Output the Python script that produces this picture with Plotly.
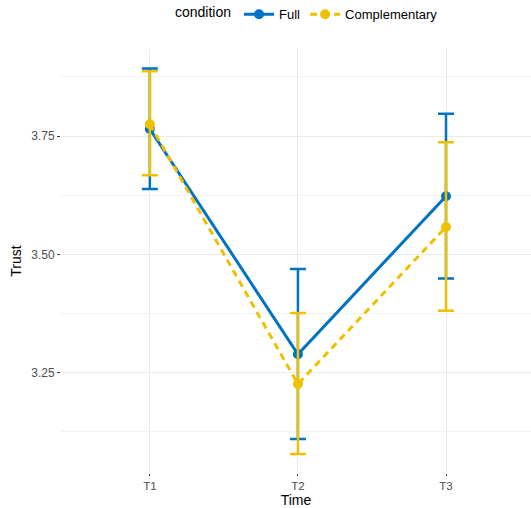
import plotly.graph_objects as go

times = ["T1", "T2", "T3"]
full_mean = [3.765, 3.289, 3.623]
full_upper = [3.893, 3.469, 3.797]
full_lower = [3.638, 3.110, 3.449]
comp_mean = [3.775, 3.226, 3.558]
comp_upper = [3.887, 3.376, 3.737]
comp_lower = [3.667, 3.078, 3.381]

BLUE = "#0073C2"
GOLD = "#EFC000"

fig = go.Figure()

def add(name, mean, up, lo, color, dash):
    fig.add_trace(go.Scatter(
        x=times, y=mean, name=name, mode="lines+markers",
        line=dict(color=color, width=3, dash=dash),
        marker=dict(color=color, size=10),
        error_y=dict(type="data", symmetric=False,
                     array=[u - m for u, m in zip(up, mean)],
                     arrayminus=[m - l for m, l in zip(mean, lo)],
                     color=color, thickness=2.5, width=8),
    ))

add("Full", full_mean, full_upper, full_lower, BLUE, "solid")
add("Complementary", comp_mean, comp_upper, comp_lower, GOLD, "7px,5px")

fig.update_layout(
    width=531, height=508,
    margin=dict(l=61, r=0, t=49, b=35, autoexpand=False),
    paper_bgcolor="white", plot_bgcolor="white",
    font=dict(family="Liberation Sans, Arial, sans-serif", size=12, color="black"),
    showlegend=True,
    legend=dict(orientation="h", x=0.58, xref="container", xanchor="center",
                y=0.972, yref="container", yanchor="middle",
                title=dict(text="condition", font=dict(size=14)),
                font=dict(size=13), itemwidth=30),
    xaxis=dict(type="category", range=[-0.6, 2.574], automargin=False,
               showgrid=True, gridcolor="#EBEBEB", gridwidth=1,
               ticks="outside", ticklen=2, tickcolor="#333333",
               tickfont=dict(size=11.5, color="#4D4D4D"),
               title=dict(text="Time", font=dict(size=14), standoff=3),
               zeroline=False, showline=False),
    yaxis=dict(range=[3.038, 3.934], automargin=False,
               tickvals=[3.25, 3.5, 3.75], ticktext=["3.25", "3.50", "3.75"],
               showgrid=True, gridcolor="#EBEBEB", gridwidth=1,
               minor=dict(tickvals=[3.125, 3.375, 3.625, 3.875], showgrid=True,
                          gridcolor="#F2F2F2", gridwidth=1, ticks=""),
               ticks="outside", ticklen=3, tickcolor="#333333",
               tickfont=dict(size=12, color="#4D4D4D"),
               title=dict(text="Trust", font=dict(size=14), standoff=6),
               zeroline=False, showline=False),
)

fig.write_html("out.html", config={"displayModeBar": False},
               post_script="document.body.style.margin='0';")
